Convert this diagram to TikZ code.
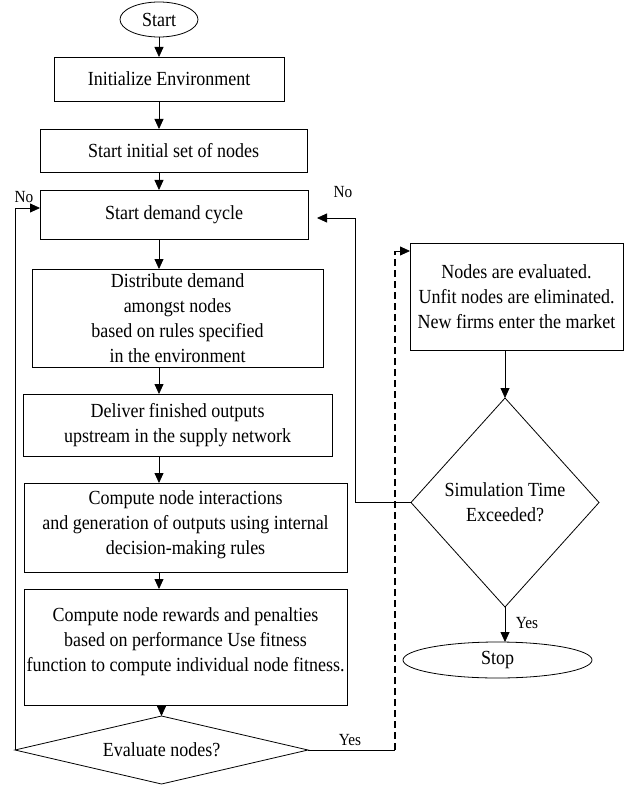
\documentclass[tikz,border=0pt]{standalone}
\usepackage{fontspec}
\setmainfont{Liberation Serif}[FakeStretch=0.9]
\usetikzlibrary{shapes.geometric,arrows.meta}
\begin{document}
\begin{tikzpicture}[x=1pt,y=-1pt,
  font=\fontsize{20}{25}\selectfont,
  every node/.style={inner sep=0pt,outer sep=0pt,align=center},
  box/.style={draw,line width=0.8pt,rectangle},
  term/.style={draw,line width=0.8pt,ellipse},
  decide/.style={draw,line width=0.8pt,diamond},
  arr/.style={line width=0.8pt,-{Triangle[length=10pt,width=9pt]}},
  link/.style={line width=0.8pt},
  dashlink/.style={line width=1.4pt,dash pattern=on 7pt off 4pt},
  tag/.style={font=\fontsize{17}{20}\selectfont}]

\fill[white] (0,0) rectangle (630,786);
\useasboundingbox (0,0) rectangle (630,786);

% main column
\node[term,minimum width=78pt,minimum height=35pt] (start) at (159,19.5) {Start};
\node[box,minimum width=230pt,minimum height=44pt] (init) at (169,79) {Initialize Environment};
\node[box,minimum width=267pt,minimum height=43pt] (initset) at (173.5,150.5) {Start initial set of nodes};
\node[box,minimum width=268pt,minimum height=49pt] (demand) at (174,214.5) {Start demand cycle};
\node[box,minimum width=291pt,minimum height=98pt] (distribute) at (177.5,318)
  {Distribute demand\\ amongst nodes\\ based on rules specified\\ in the environment};
\node[box,minimum width=309pt,minimum height=62pt] (deliver) at (177.5,425)
  {Deliver finished outputs\\ upstream in the supply network};
\node[box,minimum width=323pt,minimum height=89pt] (interact) at (185.5,527.5) {};
\node (interacttxt) at (185.5,524.5)
  {Compute node interactions\\ and generation of outputs using internal\\ decision-making rules};
\node[box,minimum width=323pt,minimum height=116pt] (rewards) at (185.5,647) {};
\node (rewardstxt) at (185.5,642)
  {Compute node rewards and penalties\\ based on performance Use fitness\\ function to compute individual node fitness.};
\node[decide,aspect=4.3,minimum width=293pt,minimum height=68pt] (eval) at (161.5,750) {Evaluate nodes?};

% right column
\node[box,minimum width=213pt,minimum height=107pt] (nodesbox) at (516.5,296.5)
  {Nodes are evaluated.\\ Unfit nodes are eliminated.\\ New firms enter the market};
\node[decide,aspect=0.9,minimum width=188pt,minimum height=209pt] (sim) at (505,502.5)
  {Simulation Time\\ Exceeded?};
\node[term,minimum width=189pt,minimum height=36pt] (stop) at (497.5,660) {Stop};

% bends of the loops
\coordinate (col) at (159,0);
\coordinate (lp) at (15,208);
\coordinate (rp) at (355,218);
\coordinate (dp) at (395,251);

% straight flow
\draw[arr] (start.south) -- (start.south |- init.north);
\draw[arr] (init.south -| col) -- (initset.north -| col);
\draw[arr] (initset.south -| col) -- (demand.north -| col);
\draw[arr] (demand.south -| col) -- (distribute.north -| col);
\draw[arr] (distribute.south -| col) -- (deliver.north -| col);
\draw[arr] (deliver.south -| col) -- (interact.north -| col);
\draw[arr] (interact.south -| col) -- (rewards.north -| col);
\draw[arr] (rewards.south -| eval.north) -- (eval.north);
\draw[arr] (nodesbox.south -| sim.north) -- (sim.north);
\draw[arr] (sim.south) -- (sim.south |- stop.north);

% loops
\draw[arr] (eval.west) -- (eval.west |- lp) -- (lp -| demand.west);
\draw[arr,shorten >=9pt] (sim.west) -- (sim.west -| rp) -- (rp) -- (rp -| demand.east);
\draw[link] (eval.east) -- (eval.east -| dp);
\draw[dashlink] (eval.east -| dp) -- (dp);
\draw[arr] (dp) -- (dp -| nodesbox.west);

% branch labels
\node[tag] (noleft) at (24,197) {No};
\node[tag] (noright) at (343,192) {No};
\node[tag] (yesleft) at (350,740) {Yes};
\node[tag] (yesright) at (527,623) {Yes};
\end{tikzpicture}
\end{document}
